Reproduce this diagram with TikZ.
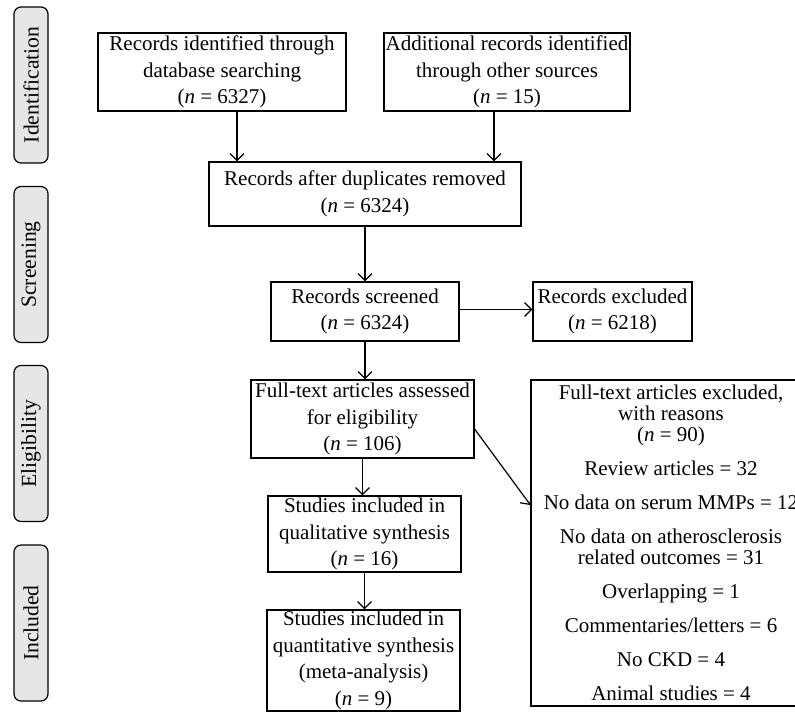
\documentclass[tikz,border=0pt]{standalone}
\usepackage{fontspec}
\setmainfont{Liberation Serif}
\usetikzlibrary{arrows.meta}
\definecolor{phasegray}{RGB}{230,230,230}

\begin{document}
\begin{tikzpicture}[x=0.5pt, y=-0.5pt,
    box/.style={draw, line width=0.6pt, inner sep=0pt, align=center,
        font=\fontsize{10.5}{13.4}\selectfont},
    phase/.style={draw, line width=0.6pt, fill=phasegray, rounded corners=3.5pt,
        rotate=90, minimum width=78pt, minimum height=17pt, inner sep=0pt,
        font=\fontsize{10.8}{13}\selectfont},
    arr/.style={line width=0.6pt, -{Straight Barb[length=3.5pt, width=7pt]}}]
    \useasboundingbox (0,0) rectangle (795,712);

    \node[phase] (idph) at (31,85) {Identification};
    \node[phase] (scph) at (31,264.5) {Screening};
    \node[phase] (elph) at (31,443.5) {Eligibility};
    \node[phase] (inph) at (31,623) {Included};

    \node[box, minimum width=124pt, minimum height=39pt] (idb) at (222,72)
        {Records identified through\\ database searching\\ (\textit{n} = 6327)};
    \node[box, minimum width=123pt, minimum height=39pt] (oth) at (507,72)
        {Additional records identified\\ through other sources\\ (\textit{n} = 15)};
    \node[box, minimum width=156pt, minimum height=32pt] (dup) at (365,194)
        {Records after duplicates removed\\ (\textit{n} = 6324)};
    \node[box, minimum width=94pt, minimum height=29.5pt] (scr) at (365,311.5)
        {Records screened\\ (\textit{n} = 6324)};
    \node[box, minimum width=79.5pt, minimum height=29.5pt] (exc) at (612.5,311.5)
        {Records excluded\\ (\textit{n} = 6218)};
    \node[box, minimum width=111.5pt, minimum height=39pt] (full) at (362.5,419)
        {Full-text articles assessed\\ for eligibility\\ (\textit{n} = 106)};
    \node[box, minimum width=96.5pt, minimum height=38pt] (qual) at (364.5,534)
        {Studies included in\\ qualitative synthesis\\ (\textit{n} = 16)};
    \node[box, minimum width=96.5pt, minimum height=50.5pt] (quan) at (363.5,660.5)
        {Studies included in\\ quantitative synthesis\\ (meta-analysis)\\ (\textit{n} = 9)};
    \node[box, minimum width=140pt, minimum height=163pt,
        font=\fontsize{10.5}{10.5}\selectfont] (reas) at (671,543)
        {Full-text articles excluded,\\ with reasons\\ (\textit{n} = 90)\\[6.5pt]
         Review articles = 32\\[6.5pt]
         No data on serum MMPs = 12\\[6.5pt]
         No data on atherosclerosis\\ related outcomes = 31\\[6.5pt]
         Overlapping = 1\\[6.5pt]
         Commentaries/letters = 6\\[6.5pt]
         No CKD = 4\\[6.5pt]
         Animal studies = 4};

    \draw[arr] ([xshift=7.5pt]idb.south) -- ([xshift=7.5pt]idb.south |- dup.north);
    \draw[arr] ([xshift=-6.5pt]oth.south) -- ([xshift=-6.5pt]oth.south |- dup.north);
    \draw[arr] (dup.south) -- (dup.south |- scr.north);
    \draw[arr] ([yshift=1pt]scr.east) -- ([yshift=1pt]scr.east -| exc.west);
    \draw[arr] (scr.south) -- (scr.south |- full.north);
    \draw[arr] (full.south) -- (full.south |- qual.north);
    \draw[arr] (qual.south) -- (qual.south |- quan.north);
    \draw[arr] ([yshift=-5pt]full.east) -- ([yshift=19pt]reas.west);
\end{tikzpicture}
\end{document}
